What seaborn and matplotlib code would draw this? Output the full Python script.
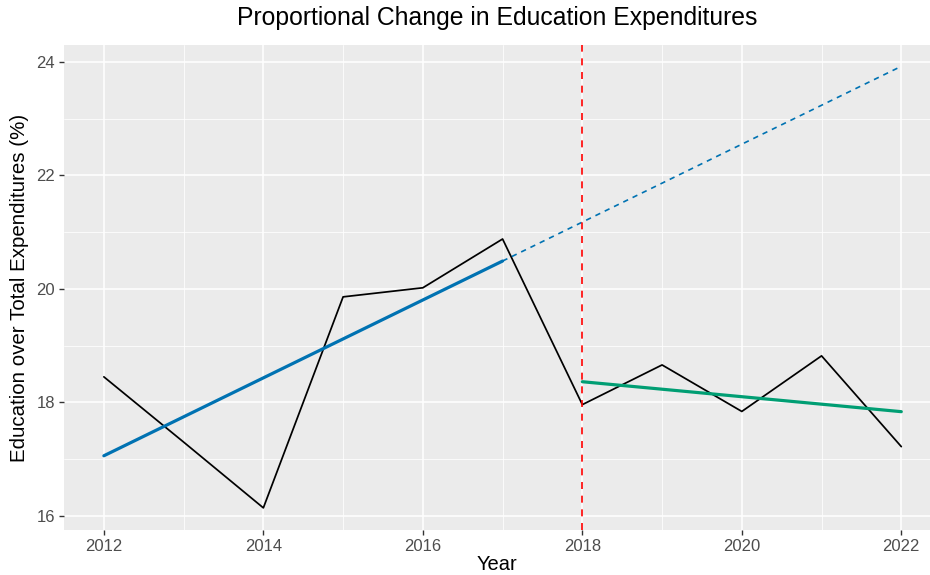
import numpy as np
import pandas as pd
import matplotlib
matplotlib.use("Agg")
import matplotlib.pyplot as plt
from matplotlib.ticker import MultipleLocator
import seaborn as sns

# Education spending as a share of total expenditures, by year
years = [2012, 2013, 2014, 2015, 2016, 2017, 2018, 2019, 2020, 2021, 2022]
share = [18.45, 17.30, 16.14, 19.86, 20.02, 20.88, 17.96, 18.66, 17.84, 18.82, 17.22]
break_year = 2018
x_ticks = [2012, 2014, 2016, 2018, 2020, 2022]
y_ticks = [16, 18, 20, 22, 24]

df = pd.DataFrame({"Year": years, "Share": share})
pre = df[df["Year"] < break_year]
post = df[df["Year"] >= break_year]

# Linear trends before and after the break
b_pre = np.polyfit(pre["Year"], pre["Share"], 1)
b_post = np.polyfit(post["Year"], post["Share"], 1)
fit_pre = pd.DataFrame({"Year": pre["Year"], "Fit": np.polyval(b_pre, pre["Year"])})
proj_years = np.array([pre["Year"].max(), df["Year"].max()])
proj_pre = pd.DataFrame({"Year": proj_years, "Fit": np.polyval(b_pre, proj_years)})
fit_post = pd.DataFrame({"Year": post["Year"], "Fit": np.polyval(b_post, post["Year"])})

sns.set_theme(style="darkgrid", rc={
    "axes.facecolor": "#EBEBEB",
    "grid.color": "white",
    "axes.edgecolor": "none",
    "xtick.bottom": True,
    "ytick.left": True,
    "xtick.color": "#333333",
    "ytick.color": "#333333",
    "xtick.labelcolor": "#4D4D4D",
    "ytick.labelcolor": "#4D4D4D",
    "text.color": "black",
    "axes.labelcolor": "black",
})
plt.rcParams["font.family"] = ["Liberation Sans", "DejaVu Sans"]

fig = plt.figure(figsize=(9.3, 5.75), dpi=100)
ax = fig.add_axes([64 / 930, 1 - 530 / 575, 1 - 64 / 930, (530 - 45) / 575])

sns.lineplot(data=df, x="Year", y="Share", color="black", linewidth=1.25, ax=ax, zorder=3)
sns.lineplot(data=proj_pre, x="Year", y="Fit", color="#0072B2", linewidth=1.2,
             dashes=False, ax=ax, zorder=3).lines[-1].set_dashes((3.2, 3))
sns.lineplot(data=fit_pre, x="Year", y="Fit", color="#0072B2", linewidth=2.3, ax=ax, zorder=4)
sns.lineplot(data=fit_post, x="Year", y="Fit", color="#009E73", linewidth=2.3, ax=ax, zorder=4)
vline = ax.axvline(break_year, color="#FF0000", linewidth=1.2, zorder=5)
vline.set_dashes((4.2, 4))

ax.set_xlim(2011.5, 2022.36)
ax.set_ylim(15.75, 24.30)
ax.set_xticks(x_ticks)
ax.set_yticks(y_ticks)
ax.xaxis.set_minor_locator(MultipleLocator(1))
ax.yaxis.set_minor_locator(MultipleLocator(1))
ax.grid(which="major", color="white", linewidth=1.1)
ax.grid(which="minor", color="white", linewidth=0.55)
ax.tick_params(which="major", length=3.5, width=1.0, labelsize=12, pad=3)
ax.tick_params(which="minor", length=0)

ax.set_xlabel("Year", fontsize=14.5, labelpad=1)
ax.set_ylabel("Education over Total Expenditures (%)", fontsize=14.8, labelpad=5)
fig.suptitle("Proportional Change in Education Expenditures", fontsize=17.8, y=0.99,
             x=(64 + 930) / 2 / 930, va="top")

fig.savefig("out.png", dpi=100)
